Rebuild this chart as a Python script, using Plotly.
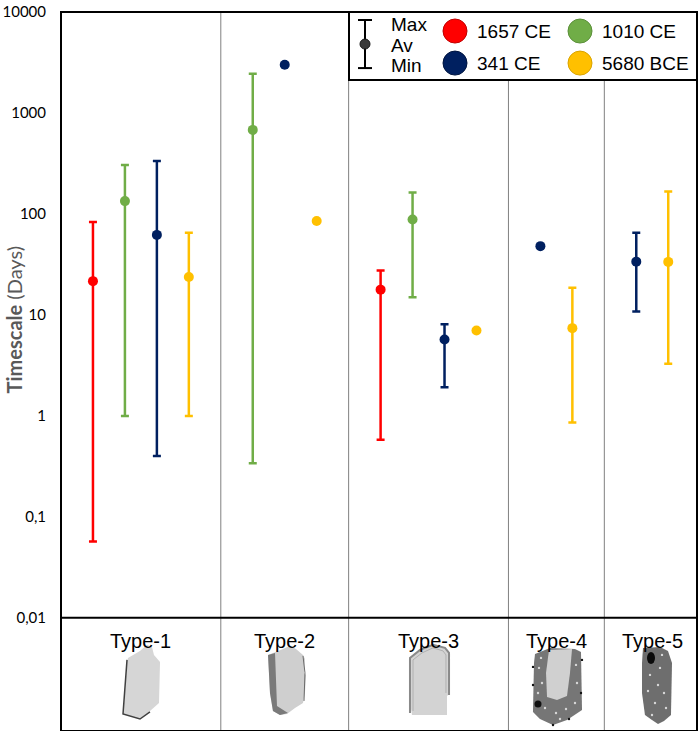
import math
import plotly.graph_objects as go

# ── Data ──────────────────────────────────────────────────────
types = ["Type-1", "Type-2", "Type-3", "Type-4", "Type-5"]
series = ["1657 CE", "1010 CE", "341 CE", "5680 BCE"]

av_1657 = [21.6, None, 17.8, None, None]
max_1657 = [83, None, 27.6, None, None]
min_1657 = [0.057, None, 0.58, None, None]

av_1010 = [134, 680, 88, None, None]
max_1010 = [306, 2450, 163, None, None]
min_1010 = [1.0, 0.34, 15, None, None]

av_341 = [62, 3000, 5.7, 48, 33.7]
max_341 = [335, None, 8.1, None, 65]
min_341 = [0.40, None, 1.92, None, 10.8]

av_5680 = [23.7, 85, 7.0, 7.4, 33.5]
max_5680 = [65, None, None, 18.6, 167]
min_5680 = [1.0, None, None, 0.86, 3.28]

tick_vals = [0.01, 0.1, 1, 10, 100, 1000, 10000]
tick_text = ["0,01", "0,1", "1", "10", "100", "1000", "10000"]

# ── Styling ───────────────────────────────────────────────────
COLORS = {
    "1657 CE": "#FF0000",
    "1010 CE": "#70AD47",
    "341 CE": "#002060",
    "5680 BCE": "#FFC000",
}
EDGE = {
    "1657 CE": "#C00000",
    "1010 CE": "#5B8F3A",
    "341 CE": "#001540",
    "5680 BCE": "#D9A300",
}

# layout is sketched in 699x731 picture pixels; SY stretches it to the page height
W, H = 699, 741
SY = H / 731
ML, MR = 61, 2
MT, MB = 10 * SY, H - 728 * SY
PW, PH = W - ML - MR, H - MT - MB


def paper(px, py):
    return (px - ML) / PW, (H - MB - py * SY) / PH


def path(points):
    pts = [paper(x, y) for x, y in points]
    return "M " + " L ".join(f"{x:.4f},{y:.4f}" for x, y in pts) + " Z"


def open_path(points):
    pts = [paper(x, y) for x, y in points]
    return "M " + " L ".join(f"{x:.4f},{y:.4f}" for x, y in pts)


values = {
    "1657 CE": (av_1657, max_1657, min_1657),
    "1010 CE": (av_1010, max_1010, min_1010),
    "341 CE": (av_341, max_341, min_341),
    "5680 BCE": (av_5680, max_5680, min_5680),
}

# slot positions: each series present in a type takes one slot, one gap slot between types
positions = {s: [None] * len(types) for s in series}
dividers, centers = [], []
slot = 0
for i, t in enumerate(types):
    start = slot
    for s in series:
        if values[s][0][i] is not None:
            slot += 1
            positions[s][i] = slot
    slot += 1
    centers.append((start + slot) / 2)
    dividers.append(slot)
x_end = dividers[-1] - 0.1
dividers = dividers[:-1]

fig = go.Figure()
for s in series:
    av, mx, mn = values[s]
    xs, ys, up, down = [], [], [], []
    for i in range(len(types)):
        if av[i] is None:
            continue
        xs.append(positions[s][i])
        ys.append(av[i])
        up.append(mx[i] - av[i] if mx[i] is not None else math.nan)
        down.append(av[i] - mn[i] if mn[i] is not None else math.nan)
    fig.add_trace(go.Scatter(
        x=xs, y=ys, mode="markers", name=s,
        marker=dict(size=10, color=COLORS[s], line=dict(width=0)),
        error_y=dict(type="data", symmetric=False, array=up, arrayminus=down,
                     color=COLORS[s], thickness=2.5, width=4),
        hovertemplate=f"<b>{s}</b><br>%{{y}} days<extra></extra>",
    ))

y_bottom = paper(0, 615)[1]

shapes = []
# panel dividers
for d in dividers:
    shapes.append(dict(type="line", xref="x", yref="paper", x0=d, x1=d, y0=0, y1=1,
                       line=dict(color="#808080", width=1)))
# legend box
lx0, ly0 = paper(349, 10)
lx1, ly1 = paper(697, 78)
shapes.append(dict(type="rect", xref="paper", yref="paper", x0=lx0, x1=lx1, y0=ly1, y1=ly0,
                   fillcolor="white", line=dict(color="black", width=2)))
# outer frame and separator of the crystal strip
shapes.append(dict(type="rect", xref="paper", yref="paper", x0=0, x1=1, y0=0, y1=1,
                   line=dict(color="black", width=2)))
shapes.append(dict(type="line", xref="paper", yref="paper", x0=0, x1=1, y0=y_bottom, y1=y_bottom,
                   line=dict(color="black", width=2)))

# legend: max / av / min symbol
bx = 365
for py0, py1 in [(18, 18), (66, 66)]:
    a = paper(bx - 7, py0)
    b = paper(bx + 7, py1)
    shapes.append(dict(type="line", xref="paper", yref="paper", x0=a[0], x1=b[0], y0=a[1], y1=b[1],
                       line=dict(color="black", width=2)))
a, b = paper(bx, 18), paper(bx, 66)
shapes.append(dict(type="line", xref="paper", yref="paper", x0=a[0], x1=b[0], y0=a[1], y1=b[1],
                   line=dict(color="black", width=2)))
a, b = paper(bx - 5, 37), paper(bx + 5, 47)
shapes.append(dict(type="circle", xref="paper", yref="paper", x0=a[0], x1=b[0], y0=b[1], y1=a[1],
                   fillcolor="#3a3a3a", line=dict(color="#1a1a1a", width=1)))

legend_spots = {"1657 CE": (455, 29), "1010 CE": (580, 29), "341 CE": (455, 61), "5680 BCE": (580, 61)}
annotations = []
for s, (cx, cy) in legend_spots.items():
    a, b = paper(cx - 12, cy - 12), paper(cx + 12, cy + 12)
    shapes.append(dict(type="circle", xref="paper", yref="paper", x0=a[0], x1=b[0], y0=b[1], y1=a[1],
                       fillcolor=COLORS[s], line=dict(color=EDGE[s], width=1)))
    tx, ty = paper(cx + 20, cy)
    annotations.append(dict(xref="paper", yref="paper", x=tx, y=ty, text=s, showarrow=False,
                            xanchor="left", yanchor="middle",
                            font=dict(family="Liberation Sans", size=19, color="black")))
for txt, py in [("Max", 22), ("Av", 43), ("Min", 63)]:
    tx, ty = paper(389, py)
    annotations.append(dict(xref="paper", yref="paper", x=tx, y=ty, text=txt, showarrow=False,
                            xanchor="left", yanchor="middle",
                            font=dict(family="Liberation Sans", size=19, color="black")))

# type labels
for c, t in zip(centers, types):
    annotations.append(dict(xref="x", yref="paper", x=c, y=paper(0, 638)[1], text=t, showarrow=False,
                            xanchor="center", yanchor="middle",
                            font=dict(family="Liberation Sans", size=20, color="black")))

# y axis title
tx, ty = paper(14, 318)
annotations.append(dict(xref="paper", yref="paper", x=tx, y=ty, textangle=-90, showarrow=False,
                        text="<b>Timescale</b> (Days)", xanchor="center", yanchor="middle",
                        font=dict(family="Lato", size=20, color="#595959")))

# crystal sketches
def poly(points, fill, line_color=None, width=0):
    return dict(type="path", xref="paper", yref="paper", path=path(points), fillcolor=fill,
                line=dict(color=line_color or fill, width=width), layer="above")


def edge(points, color, width):
    return dict(type="path", xref="paper", yref="paper", path=open_path(points),
                line=dict(color=color, width=width), layer="above")


def blob(cx, cy, rx, ry, color):
    a, b = paper(cx - rx, cy - ry), paper(cx + rx, cy + ry)
    return dict(type="circle", xref="paper", yref="paper", x0=a[0], x1=b[0], y0=b[1], y1=a[1],
                fillcolor=color, line=dict(color=color, width=0))


shapes += [
    poly([(128, 655), (140, 648), (147, 642), (152, 644), (154, 652), (160, 659), (159, 700),
          (150, 708), (140, 716), (123, 711), (125, 690), (127, 659)], "#d6d6d6"),
    edge([(127, 657), (123, 711), (140, 716), (150, 709)], "#404040", 1.5),
    poly([(268, 652), (283, 646), (290, 643), (296, 646), (303, 652), (305, 656), (304, 670),
          (306, 672), (305, 690), (303, 700), (295, 705), (287, 711), (280, 712), (273, 708),
          (270, 690)], "#cfcfcf"),
    poly([(268, 652), (275, 650), (277, 703), (288, 710), (280, 712), (273, 708), (270, 690)], "#7a7a7a"),
    edge([(303, 653), (305, 670), (304, 698)], "#6a6a6a", 1),
    poly([(410, 655), (420, 647), (433, 642), (445, 645), (449, 650), (449, 691), (447, 693),
          (447, 712), (412, 712), (410, 700)], "#d3d3d3"),
    edge([(410, 710), (410, 655), (420, 647), (433, 642), (445, 645), (449, 650), (449, 692)],
         "#8a8a8a", 2),
    edge([(413, 708), (413, 657), (422, 650), (433, 645), (443, 648), (446, 652), (446, 690)],
         "#b0b0b0", 1),
    poly([(535, 651), (550, 645), (575, 646), (581, 649), (582, 707), (567, 717), (553, 722),
          (540, 716), (533, 709), (534, 660)], "#767676"),
    poly([(549, 647), (572, 646), (570, 670), (567, 693), (557, 697), (547, 694), (546, 670)], "#d0d0d0"),
    blob(538, 701, 3.5, 3.5, "#111111"),
    poly([(643, 645), (660, 644), (668, 648), (672, 660), (671, 712), (664, 718), (658, 721),
          (652, 717), (645, 712), (642, 690), (642, 660)], "#6e6e6e"),
    blob(651, 655, 4, 6, "#0a0a0a"),
]

# light speckles in the rims of the Type-4 and Type-5 crystals, dark dots on Type-4 edge
speckles = [(539, 665), (542, 680), (538, 690), (545, 705), (556, 710), (566, 706), (575, 700),
            (577, 680), (576, 662), (541, 655), (560, 716),
            (650, 672), (660, 665), (664, 690), (655, 700), (648, 688), (666, 705), (658, 682),
            (652, 712), (662, 652)]
for sx, sy in speckles:
    shapes.append(blob(sx, sy, 1.2, 1.2, "#d8d8d8"))
for sx, sy in [(533, 664), (533, 682), (582, 657), (581, 690), (553, 722), (569, 716)]:
    shapes.append(blob(sx, sy, 1.2, 1.2, "#111111"))

fig.update_layout(
    width=W, height=H,
    margin=dict(l=ML, r=MR, t=MT, b=MB),
    plot_bgcolor="white", paper_bgcolor="white",
    showlegend=False,
    xaxis=dict(range=[0, x_end], visible=False, showgrid=False, zeroline=False, domain=[0, 1]),
    yaxis=dict(type="log", range=[-2, 4], domain=[y_bottom, 1],
               tickvals=tick_vals, ticktext=tick_text, showgrid=False, zeroline=False,
               showline=False, ticks="", ticklabelstandoff=14,
               tickfont=dict(family="Lato", size=15, color="black")),
    shapes=shapes,
    annotations=annotations,
)

# drop the default page margin so the figure sits at the window's corner
fig.write_html("out.html", config={"displayModeBar": False},
               post_script="document.body.style.margin='0';")
